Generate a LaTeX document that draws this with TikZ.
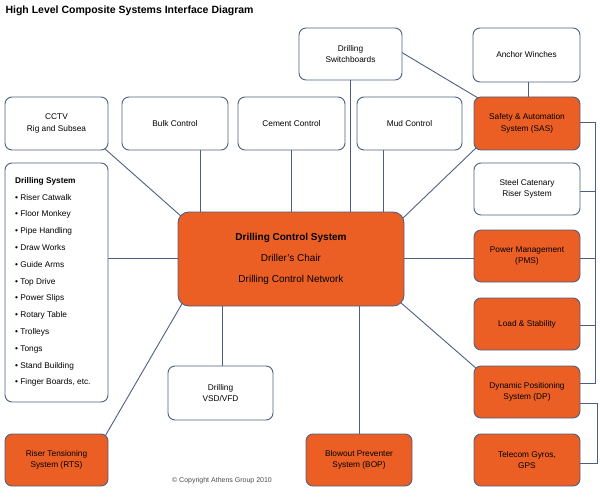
\documentclass[tikz,border=0pt]{standalone}
\usepackage{fontspec}
\setmainfont{Liberation Sans}
\definecolor{ln}{HTML}{4D5F80}
\definecolor{org}{HTML}{EC5F24}
\begin{document}
\begin{tikzpicture}[x=1pt,y=-1pt,
  box/.style={draw=ln,line width=0.9pt,rounded corners=7pt,fill=white,align=center,font=\fontsize{8.3}{11.5}\selectfont,inner sep=0pt},
  obox/.style={box,fill=org},
  con/.style={draw=ln,line width=0.9pt}]
\useasboundingbox (0,0) rectangle (600,500);
\node[anchor=west,font=\bfseries\fontsize{10.5}{12}\selectfont] (title) at (2,11) {High Level Composite Systems Interface Diagram};
\newcommand\bx[6]{\node[#1,minimum width=#4-#2,minimum height=#5-#3] (#6) at ({(#2+#4)/2},{(#3+#5)/2}) {};}
% connectors first
\coordinate (c) at (291,259);
\draw[con] (350,54) -- (350,212);
\draw[con] (200,150) -- (200,212);
\draw[con] (291,150) -- (291,212);
\draw[con] (383,150) -- (383,212);
\draw[con] (104,148) -- (182,217);
\draw[con] (402,219) -- (477,147);
\draw[con] (108,258) -- (178,258);
\draw[con] (404,258) -- (474,258);
\draw[con] (183,302) -- (104,438);
\draw[con] (400,302) -- (477,369);
\draw[con] (222,306) -- (222,366);
\draw[con] (359,306) -- (359,434);
\draw[con] (401,52) -- (478,98);
\draw[con] (528,82) -- (528,97);
\draw[con] (580,122) -- (595,122) -- (595,383) -- (580,383);
\draw[con] (580,191) -- (595,191);
\draw[con] (580,258) -- (595,258);
\draw[con] (580,325) -- (595,325);
\draw[con] (580,403) -- (597,403) -- (597,463) -- (580,463);
% boxes
\node[box,minimum width=103pt,minimum height=52pt] (sw) at (350.5,54) {Drilling\\Switchboards};
\node[box,minimum width=107pt,minimum height=54pt] (aw) at (526.5,55) {Anchor Winches};
\node[box,minimum width=103pt,minimum height=53pt] (cctv) at (56.5,123.5) {CCTV\\Rig and Subsea};
\node[box,minimum width=106pt,minimum height=53pt] (bulk) at (175,123.5) {Bulk Control};
\node[box,minimum width=107pt,minimum height=53pt] (cem) at (291.5,123.5) {Cement Control};
\node[box,minimum width=105pt,minimum height=53pt] (mud) at (409.5,123.5) {Mud Control};
\node[obox,minimum width=106pt,minimum height=53pt] (sas) at (527,123.5) {Safety \& Automation\\System (SAS)};
\node[box,minimum width=103pt,minimum height=239pt] (ds) at (56.5,282.5) {};
\node[anchor=north west,align=left,font=\fontsize{8.3}{16.8}\selectfont,inner sep=0pt] (dst) at (15,177) {\textbf{Drilling System}\\
• Riser Catwalk\\• Floor Monkey\\• Pipe Handling\\• Draw Works\\• Guide Arms\\• Top Drive\\• Power Slips\\• Rotary Table\\• Trolleys\\• Tongs\\• Stand Building\\• Finger Boards, etc.};
\node[box,minimum width=106pt,minimum height=52pt] (scr) at (527,189) {Steel Catenary\\Riser System};
\node[obox,minimum width=226pt,minimum height=94pt,font=\fontsize{10}{21}\selectfont,rounded corners=11pt] (dcs) at (291,259) {\textbf{Drilling Control System}\\Driller’s Chair\\Drilling Control Network};
\node[obox,minimum width=106pt,minimum height=52pt] (pms) at (527,256) {Power Management\\(PMS)};
\node[obox,minimum width=106pt,minimum height=52pt] (ls) at (527,324) {Load \& Stability};
\node[obox,minimum width=106pt,minimum height=52pt] (dp) at (527,392) {Dynamic Positioning\\System (DP)};
\node[box,minimum width=105pt,minimum height=54pt] (vsd) at (220.5,393) {Drilling\\VSD/VFD};
\node[obox,minimum width=103pt,minimum height=52pt] (rts) at (56.5,460) {Riser Tensioning\\System (RTS)};
\node[obox,minimum width=106pt,minimum height=52pt] (bop) at (359,460) {Blowout Preventer\\System (BOP)};
\node[obox,minimum width=106pt,minimum height=52pt] (tel) at (527,460) {Telecom Gyros,\\GPS};
\node[font=\fontsize{7}{8}\selectfont,text=black!70] (copy) at (222,481) {© Copyright Athens Group 2010};
\end{tikzpicture}
\end{document}
